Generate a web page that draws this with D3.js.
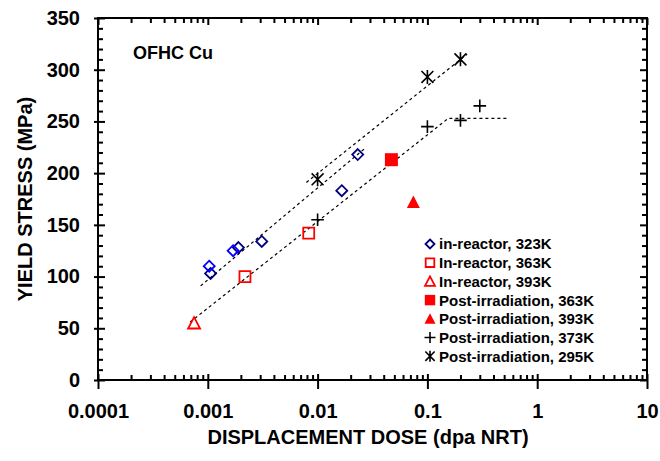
<!DOCTYPE html>
<html>

<head>
    <meta charset="utf-8">
    <style>
        body {
            margin: 0;
            background: #fff;
        }

        svg {
            font-family: 'Liberation Sans', Arial, sans-serif;
            font-weight: bold;
        }

        .axis .domain {
            display: none;
        }

        .axis .tick line {
            stroke: #000;
            stroke-width: 2;
        }

        .axis .tick text {
            font-size: 20px;
            font-weight: bold;
            fill: #000;
        }

        .axis-title {
            font-size: 20px;
        }

        .legend text {
            font-size: 15px;
        }

        .fit {
            fill: none;
            stroke: #000;
            stroke-width: 1.2;
            stroke-dasharray: 3, 3;
        }
    </style>
</head>

<body>
    <svg width="660" height="461"></svg>

    <script src="https://d3js.org/d3.v7.min.js"></script>
    <script>
        // tick labels
        let xTickValues = [0.0001, 0.001, 0.01, 0.1, 1, 10]
        let xTickLabels = ["0.0001", "0.001", "0.01", "0.1", "1", "10"]
        let yTickValues = [0, 50, 100, 150, 200, 250, 300, 350]

        // data points [dose (dpa), yield stress (MPa)]
        let inReactor323 = [[0.00106, 103], [0.0019, 128], [0.0031, 134], [0.0166, 183], [0.0232, 218]]
        let inReactor323b = [[0.00103, 110], [0.0017, 125]]
        let inReactor363 = [[0.00218, 100], [0.0083, 142]]
        let inReactor393 = [[0.00075, 55]]
        let postIrr363 = [[0.047, 213]]
        let postIrr393 = [[0.0745, 172]]
        let postIrr373 = [[0.01, 155], [0.1, 245], [0.2, 251], [0.3, 265]]
        let postIrr295 = [[0.01, 194], [0.1, 293], [0.2, 310]]

        // dashed fit lines
        let fit295 = [[0.0079, 191], [0.23, 315]]
        let fit323 = [[0.00086, 91], [0.027, 224]]
        let fit373 = [[0.00069, 56], [0.155, 253], [0.53, 253]]

        let margin = { top: 18, right: 13, bottom: 81, left: 98 }
        let width = 660 - margin.left - margin.right
        let height = 461 - margin.top - margin.bottom

        let svg = d3.select("svg")

        let x = d3.scaleLog()
            .domain([0.0001, 10])
            .range([margin.left, margin.left + width])

        let y = d3.scaleLinear()
            .domain([0, 350])
            .range([margin.top + height, margin.top])

        // minor tick values
        let xMinor = []
        xTickValues.slice(0, -1).forEach(d => {
            for (let k = 2; k <= 9; k++) xMinor.push(d * k)
        })
        let yMinor = d3.range(0, 351, 10).filter(d => d % 50 != 0)

        let bottom = margin.top + height
        let right = margin.left + width

        // bottom axis
        svg.append("g")
            .attr("class", "axis")
            .attr("transform", `translate(0,${bottom})`)
            .call(d3.axisBottom(x).tickValues(xMinor).tickSize(-5).tickFormat(""))

        svg.append("g")
            .attr("class", "axis x")
            .attr("transform", `translate(0,${bottom})`)
            .call(d3.axisBottom(x).tickValues(xTickValues).tickSize(9).tickPadding(15)
                .tickFormat((d, i) => xTickLabels[i]))
            .call(g => g.selectAll(".tick line").attr("y1", -6))

        // top axis (ticks inward)
        svg.append("g")
            .attr("class", "axis")
            .attr("transform", `translate(0,${margin.top})`)
            .call(d3.axisTop(x).tickValues(xMinor).tickSize(-5).tickFormat(""))

        svg.append("g")
            .attr("class", "axis")
            .attr("transform", `translate(0,${margin.top})`)
            .call(d3.axisTop(x).tickValues(xTickValues).tickSize(-7).tickFormat(""))

        // left axis
        svg.append("g")
            .attr("class", "axis")
            .attr("transform", `translate(${margin.left},0)`)
            .call(d3.axisLeft(y).tickValues(yMinor).tickSize(-5).tickFormat(""))

        svg.append("g")
            .attr("class", "axis y")
            .attr("transform", `translate(${margin.left},0)`)
            .call(d3.axisLeft(y).tickValues(yTickValues).tickSize(4).tickPadding(14))
            .call(g => g.selectAll(".tick line").attr("x1", 7))

        // right axis
        svg.append("g")
            .attr("class", "axis")
            .attr("transform", `translate(${right},0)`)
            .call(d3.axisRight(y).tickValues(yMinor).tickSize(-5).tickFormat(""))

        svg.append("g")
            .attr("class", "axis")
            .attr("transform", `translate(${right},0)`)
            .call(d3.axisRight(y).tickValues(yTickValues).tickSize(-7).tickFormat(""))

        // frame
        svg.append("rect")
            .attr("x", margin.left)
            .attr("y", margin.top)
            .attr("width", width)
            .attr("height", height)
            .attr("fill", "none")
            .attr("stroke", "#000")
            .attr("stroke-width", 2)

        // fit lines
        let line = d3.line()
            .x(d => x(d[0]))
            .y(d => y(d[1]))

        svg.selectAll(".fit")
            .data([fit295, fit323, fit373])
            .join("path")
            .attr("class", "fit")
            .attr("d", line)

        // marker shapes, r = half size
        let shapes = {
            diamond: r => `M0,${-r}L${r},0L0,${r}L${-r},0Z`,
            square: r => `M${-r},${-r}H${r}V${r}H${-r}Z`,
            triangle: r => `M0,${-r}L${r},${r * 0.9}L${-r},${r * 0.9}Z`,
            plus: r => `M${-r},0H${r}M0,${-r}V${r}`,
            asterisk: r => `M0,${-r}V${r}M${-r * 0.85},${-r * 0.85}L${r * 0.85},${r * 0.85}M${-r * 0.85},${r * 0.85}L${r * 0.85},${-r * 0.85}`
        }

        let series = [
            { label: "in-reactor, 323K", data: inReactor323, shape: "diamond", color: "#000080", fill: false, r: 5.5, lr: 4.5, sw: 1.8 },
            { label: null, data: inReactor323b, shape: "diamond", color: "#0000ff", fill: false, r: 5.5, sw: 1.8 },
            { label: "In-reactor, 363K", data: inReactor363, shape: "square", color: "#ff0000", fill: false, r: 5.5, lr: 4.3, sw: 1.8 },
            { label: "In-reactor, 393K", data: inReactor393, shape: "triangle", color: "#ff0000", fill: false, r: 6, lr: 5, sw: 1.8 },
            { label: "Post-irradiation, 363K", data: postIrr363, shape: "square", color: "#ff0000", fill: true, r: 6.5, lr: 5.2, sw: 0 },
            { label: "Post-irradiation, 393K", data: postIrr393, shape: "triangle", color: "#ff0000", fill: true, r: 6.5, lr: 5.5, sw: 0 },
            { label: "Post-irradiation, 373K", data: postIrr373, shape: "plus", color: "#000", fill: false, r: 6.3, lr: 5.5, sw: 1.6 },
            { label: "Post-irradiation, 295K", data: postIrr295, shape: "asterisk", color: "#000", fill: false, r: 7, lr: 5.5, sw: 1.6 }
        ]

        let marks = svg.append("g").attr("class", "marks")

        series.forEach(s => {
            marks.append("g")
                .selectAll("path")
                .data(s.data)
                .join("path")
                .attr("transform", d => `translate(${x(d[0])},${y(d[1])})`)
                .attr("d", shapes[s.shape](s.r))
                .attr("fill", s.fill ? s.color : "none")
                .attr("stroke", s.color)
                .attr("stroke-width", s.sw)
        })

        // legend
        let legend = svg.append("g")
            .attr("class", "legend")
            .attr("transform", "translate(430,244)")

        let legendItems = legend.selectAll("g")
            .data(series.filter(s => s.label))
            .join("g")
            .attr("transform", (d, i) => `translate(0,${i * 18.7})`)

        legendItems.append("path")
            .attr("d", d => shapes[d.shape](d.lr))
            .attr("fill", d => d.fill ? d.color : "none")
            .attr("stroke", d => d.color)
            .attr("stroke-width", d => d.sw)

        legendItems.append("text")
            .attr("x", 9)
            .attr("dy", "0.36em")
            .text(d => d.label)

        // annotation
        svg.append("text")
            .attr("x", 133)
            .attr("y", 58.5)
            .attr("font-size", 18)
            .text("OFHC Cu")

        // axis titles
        svg.append("text")
            .attr("class", "axis-title")
            .attr("x", 368)
            .attr("y", 444)
            .attr("text-anchor", "middle")
            .text("DISPLACEMENT DOSE (dpa NRT)")

        svg.append("text")
            .attr("class", "axis-title")
            .attr("transform", `translate(25,${margin.top + height / 2}) rotate(-90)`)
            .attr("dy", "0.35em")
            .attr("text-anchor", "middle")
            .text("YIELD STRESS (MPa)")
    </script>
</body>

</html>
